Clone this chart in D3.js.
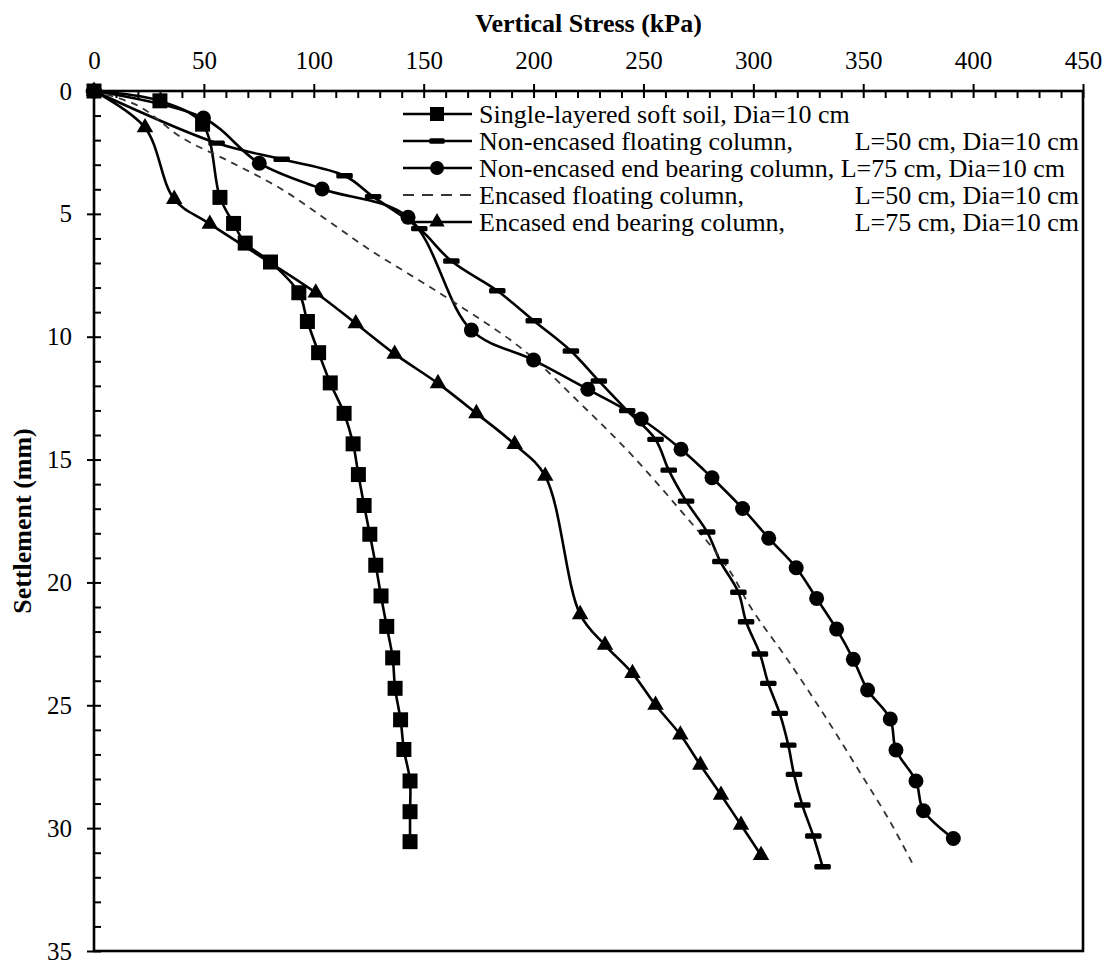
<!DOCTYPE html>
<html>
<head>
<meta charset="utf-8">
<script src="https://cdn.jsdelivr.net/npm/d3@7"></script>
<style>
  body { margin: 0; background: #fff; }
  svg { display: block; }
</style>
</head>
<body>
<svg id="drawing_region"></svg>
<script>
// Single-layered soft soil
const singleStress = [0, 30, 49.4, 57.3, 63.5, 68.8, 80.3, 93.2, 97.1, 102.2, 107.5, 113.8, 117.9, 120.3, 122.9, 125.5, 128.2, 130.6, 133.2, 135.9, 137, 139.5, 141, 143.8, 143.8, 143.8];
const singleSettle = [0, 0.4, 1.35, 4.33, 5.39, 6.19, 6.96, 8.21, 9.38, 10.65, 11.88, 13.12, 14.36, 15.61, 16.87, 18.04, 19.3, 20.55, 21.79, 23.07, 24.31, 25.59, 26.8, 28.08, 29.33, 30.55];

// Non-encased floating column
const floatStress = [0, 55.8, 85.4, 114, 127, 148, 162.6, 183.5, 200.1, 217, 229.7, 242.6, 255.5, 261.5, 269.4, 279, 285, 293.2, 296.7, 303, 306.8, 312, 315.9, 318.5, 322.3, 327.3, 331.5];
const floatSettle = [0, 2.12, 2.78, 3.45, 4.3, 5.6, 6.92, 8.13, 9.35, 10.58, 11.8, 13.01, 14.18, 15.43, 16.69, 17.95, 19.15, 20.4, 21.6, 22.91, 24.11, 25.33, 26.62, 27.81, 29.06, 30.32, 31.57];

// Non-encased end bearing column
const endStress = [0, 49.8, 75.2, 103.8, 142.9, 171.7, 200, 224.7, 249, 267.1, 281.2, 295.1, 307, 319.5, 328.8, 337.9, 345.5, 352, 362.3, 364.9, 374, 377.4, 391];
const endSettle = [0, 1.1, 2.94, 3.99, 5.14, 9.73, 10.95, 12.14, 13.35, 14.58, 15.74, 16.99, 18.2, 19.4, 20.65, 21.9, 23.13, 24.38, 25.56, 26.82, 28.08, 29.29, 30.42];

// Encased floating column (no markers)
const encFloatStress = [0, 20, 40, 61.9, 84.7, 106, 125.6, 146, 165.8, 195.4, 221.2, 244, 266.7, 288, 299.4, 316, 333, 349, 362, 372.2];
const encFloatSettle = [0, 0.6, 1.9, 2.88, 3.96, 5.25, 6.47, 7.6, 8.71, 10.54, 12.71, 14.75, 17.05, 19.36, 21.1, 23.2, 25.5, 27.8, 29.7, 31.4];

// Encased end bearing column
const encEndStress = [0, 23.2, 36.5, 52.7, 100.9, 119.1, 136.8, 156.5, 174, 191.4, 205.3, 221.2, 232.5, 245, 255.5, 266.8, 275.9, 285.3, 294.4, 303.5];
const encEndSettle = [0, 1.49, 4.4, 5.41, 8.21, 9.46, 10.7, 11.9, 13.12, 14.38, 15.67, 21.3, 22.55, 23.7, 24.99, 26.2, 27.43, 28.65, 29.87, 31.1];

const stressTicks = [0, 50, 100, 150, 200, 250, 300, 350, 400, 450];
const settleTicks = [0, 5, 10, 15, 20, 25, 30, 35];

const legendNames = [
    ["Single-layered soft soil, Dia=10 cm", ""],
    ["Non-encased floating column,", "L=50 cm, Dia=10 cm"],
    ["Non-encased end bearing column, L=75 cm, Dia=10 cm", ""],
    ["Encased floating column,", "L=50 cm, Dia=10 cm"],
    ["Encased end bearing column,", "L=75 cm, Dia=10 cm"]
];

const SERIF = '"Liberation Serif", "Times New Roman", "DejaVu Serif", serif';

class SettlementChart {

    constructor( config ) {
        this.config = config;
        this.series = [
            { xs: singleStress, ys: singleSettle, marker: 'square' },
            { xs: floatStress, ys: floatSettle, marker: 'bar' },
            { xs: endStress, ys: endSettle, marker: 'circle' },
            { xs: encFloatStress, ys: encFloatSettle, marker: 'none', dashed: true },
            { xs: encEndStress, ys: encEndSettle, marker: 'triangle' }
        ];
        this.init();
    }

    init() {
        let self = this;
        const m = self.config.margin;
        self.inner_width = self.config.width - m.left - m.right;
        self.inner_height = self.config.height - m.top - m.bottom;

        self.svg = d3.select( self.config.parent )
            .attr('width', self.config.width)
            .attr('height', self.config.height);

        self.chart = self.svg.append('g')
            .attr('transform', `translate(${m.left}, ${m.top})`);

        self.xscale = d3.scaleLinear().domain([0, 450]).range([0, self.inner_width]);
        self.yscale = d3.scaleLinear().domain([0, 35]).range([0, self.inner_height]);

        self.line = d3.line()
            .x( d => self.xscale(d[0]) )
            .y( d => self.yscale(d[1]) )
            .curve( d3.curveCatmullRom.alpha(0.5) );
    }

    marker( sel, type, s ) {
        if (type === 'bar') {
            sel.append('rect')
                .attr('x', -s * 0.55).attr('y', -2.7)
                .attr('width', s * 1.1).attr('height', 5.4)
                .attr('rx', 1.5)
                .attr('fill', '#000');
        } else if (type !== 'none') {
            const sym = { square: d3.symbolSquare, circle: d3.symbolCircle, triangle: d3.symbolTriangle }[type];
            const size = { square: s * s, circle: Math.PI * s * s / 4, triangle: Math.sqrt(3) / 4 * Math.pow(s * 1.1, 2) }[type];
            sel.append('path')
                .attr('d', d3.symbol().type(sym).size(size)())
                .attr('fill', '#000');
        }
    }

    render() {
        let self = this;

        // axes
        self.chart.append('g')
            .call( d3.axisTop(self.xscale).tickValues(stressTicks).tickSize(7).tickPadding(15) )
            .call( g => g.select('.domain').remove() );
        self.chart.append('g')
            .call( d3.axisBottom(self.xscale).tickValues(d3.range(0, 451, 10)).tickSize(7).tickFormat('') )
            .call( g => g.select('.domain').remove() );
        self.chart.append('g')
            .call( d3.axisLeft(self.yscale).tickValues(settleTicks).tickSize(7).tickPadding(15) )
            .call( g => g.select('.domain').remove() );
        self.chart.append('g')
            .call( d3.axisRight(self.yscale).tickValues(d3.range(0, 36, 1)).tickSize(7).tickFormat('') )
            .call( g => g.select('.domain').remove() );

        self.chart.selectAll('.tick line').attr('stroke', '#000').attr('stroke-width', 2);
        self.chart.selectAll('.tick text')
            .style('font-family', SERIF)
            .style('font-size', '25px')
            .attr('fill', '#000');

        self.chart.append('rect')
            .attr('width', self.inner_width)
            .attr('height', self.inner_height)
            .attr('fill', 'none')
            .attr('stroke', '#000')
            .attr('stroke-width', 2.6);

        // lines
        self.series.forEach( s => {
            const pts = s.xs.map( (x, i) => [x, s.ys[i]] );
            self.chart.append('path')
                .datum(pts)
                .attr('d', self.line)
                .attr('fill', 'none')
                .attr('stroke', s.dashed ? '#333' : '#000')
                .attr('stroke-width', s.dashed ? 1.8 : 2.6)
                .attr('stroke-dasharray', s.dashed ? '7,6' : null);
        });

        // markers
        self.series.forEach( s => {
            if (s.marker === 'none') return;
            const pts = s.xs.map( (x, i) => [x, s.ys[i]] );
            self.chart.selectAll(null)
                .data(pts)
                .enter()
                .append('g')
                .attr('transform', d => `translate(${self.xscale(d[0])}, ${self.yscale(d[1])})`)
                .each( function() { self.marker( d3.select(this), s.marker, 15 ); } );
        });

        // legend
        const lg = self.chart.append('g');
        self.series.forEach( (s, i) => {
            const row = lg.append('g')
                .attr('transform', `translate(0, ${23 + i * 27})`);
            row.append('line')
                .attr('x1', 309).attr('x2', 378)
                .attr('stroke', s.dashed ? '#333' : '#000')
                .attr('stroke-width', s.dashed ? 2 : 2.6)
                .attr('stroke-dasharray', s.dashed ? '11,8' : null);
            const mk = row.append('g').attr('transform', 'translate(343, 0)');
            self.marker( mk, s.marker, 14 );
            row.append('text')
                .attr('x', 385).attr('y', 9)
                .style('font-family', SERIF)
                .style('font-size', '26px')
                .text( legendNames[i][0] );
            row.append('text')
                .attr('x', self.inner_width - 4).attr('y', 9)
                .attr('text-anchor', 'end')
                .style('font-family', SERIF)
                .style('font-size', '26px')
                .text( legendNames[i][1] );
        });

        // titles
        self.svg.append('text')
            .attr('x', self.config.margin.left + self.inner_width / 2)
            .attr('y', 32)
            .attr('text-anchor', 'middle')
            .style('font-family', SERIF)
            .style('font-size', '26px')
            .style('font-weight', 'bold')
            .text('Vertical Stress (kPa)');

        self.svg.append('text')
            .attr('transform', `translate(31, ${self.config.margin.top + self.inner_height / 2}) rotate(-90)`)
            .attr('text-anchor', 'middle')
            .style('font-family', SERIF)
            .style('font-size', '26px')
            .style('font-weight', 'bold')
            .text('Settlement (mm)');
    }
}

const config = {
    parent: '#drawing_region',
    width: 1114,
    height: 963,
    margin: {top: 91, right: 31, bottom: 12, left: 94}
};

const chart = new SettlementChart( config );
chart.render();
</script>
</body>
</html>
